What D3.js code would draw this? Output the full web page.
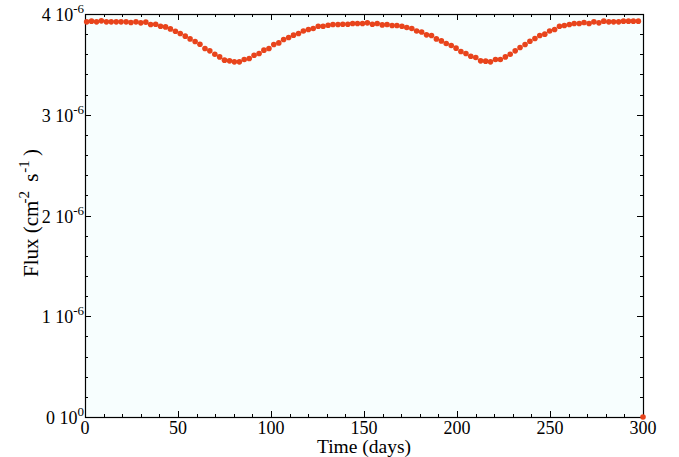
<!DOCTYPE html>
<html>
<head>
<meta charset="utf-8">
<script src="https://cdn.jsdelivr.net/npm/d3@7"></script>
<style>
  html, body { margin: 0; padding: 0; background: #fff; }
  svg { display: block; font-family: "Liberation Serif", "DejaVu Serif", serif; }
</style>
</head>
<body>
<svg id="chart" width="679" height="457"></svg>
<script>
// === Data ===
// time in days
const times = [
  0.9, 3.5, 6.2, 8.8, 11.5, 14.1, 16.8, 19.4, 22.1, 24.7, 27.4, 30.0, 32.7, 35.3, 38.0, 40.6,
  43.3, 45.9, 48.6, 51.2, 53.9, 56.5, 59.2, 61.8, 64.5, 67.1, 69.8, 72.4, 75.0, 77.7, 80.3, 83.0,
  85.6, 88.3, 90.9, 93.6, 96.2, 98.9, 101.5, 104.2, 106.8, 109.5, 112.1, 114.8, 117.4, 120.1, 122.7, 125.4,
  128.0, 130.7, 133.3, 136.0, 138.6, 141.3, 143.9, 146.5, 149.2, 151.8, 154.5, 157.1, 159.8, 162.4, 165.1, 167.7,
  170.4, 173.0, 175.7, 178.3, 181.0, 183.6, 186.3, 188.9, 191.6, 194.2, 196.9, 199.5, 202.1, 204.8, 207.4, 210.1,
  212.7, 215.4, 218.0, 220.7, 223.3, 226.0, 228.6, 231.3, 233.9, 236.6, 239.2, 241.9, 244.5, 247.2, 249.8, 252.5,
  255.1, 257.7, 260.4, 263.0, 265.7, 268.3, 271.0, 273.6, 276.3, 278.9, 281.6, 284.2, 286.9, 289.5, 292.2, 294.8,
  297.5, 300
];
// flux in units of 1e-6 cm^-2 s^-1
const flux = [
  3.922, 3.929, 3.922, 3.932, 3.922, 3.922, 3.922, 3.922, 3.922, 3.916, 3.922, 3.912, 3.919, 3.896, 3.899, 3.879,
  3.872, 3.852, 3.829, 3.806, 3.780, 3.753, 3.727, 3.700, 3.658, 3.634, 3.601, 3.574, 3.542, 3.535, 3.525, 3.525,
  3.549, 3.559, 3.591, 3.608, 3.641, 3.658, 3.697, 3.713, 3.747, 3.767, 3.790, 3.806, 3.832, 3.846, 3.856, 3.879,
  3.879, 3.889, 3.896, 3.896, 3.899, 3.899, 3.906, 3.906, 3.906, 3.912, 3.899, 3.906, 3.892, 3.896, 3.886, 3.886,
  3.879, 3.866, 3.856, 3.832, 3.822, 3.793, 3.787, 3.753, 3.733, 3.707, 3.688, 3.661, 3.628, 3.608, 3.581, 3.568,
  3.535, 3.532, 3.525, 3.549, 3.549, 3.574, 3.601, 3.634, 3.668, 3.697, 3.730, 3.757, 3.787, 3.800, 3.832, 3.846,
  3.879, 3.886, 3.896, 3.906, 3.906, 3.916, 3.906, 3.922, 3.912, 3.929, 3.922, 3.922, 3.922, 3.929, 3.929, 3.929,
  3.929, 0
];
const xMajor = [0, 50, 100, 150, 200, 250, 300];
const yMajor = [0, 1, 2, 3, 4];
const yExp = ['0', '-6', '-6', '-6', '-6'];

// === Layout ===
const M = { left: 85, right: 643, top: 14, bottom: 417 };
const MARK = '#e8441c';

const svg = d3.select('#chart');
const x = d3.scaleLinear().domain([0, 300]).range([M.left, M.right]);
const y = d3.scaleLinear().domain([0, 4]).range([M.bottom, M.top]);

// plot background
svg.append('rect')
  .attr('x', M.left).attr('y', M.top)
  .attr('width', M.right - M.left).attr('height', M.bottom - M.top)
  .attr('fill', '#f7fefe');

// --- ticks (inside, on all four sides) ---
const xMinor = d3.range(0, 301, 10).filter(v => v % 50 !== 0);
const yMinor = d3.range(0, 4.01, 0.2).filter(v => Math.abs(v - Math.round(v)) > 0.01);
const tickG = svg.append('g').attr('stroke', '#000').attr('stroke-width', 1);

function xTicks(vals, len) {
  vals.forEach(v => {
    const px = Math.round(x(v)) + 0.5;
    tickG.append('line').attr('x1', px).attr('x2', px).attr('y1', M.bottom).attr('y2', M.bottom - len);
    tickG.append('line').attr('x1', px).attr('x2', px).attr('y1', M.top).attr('y2', M.top + len);
  });
}
function yTicks(vals, len) {
  vals.forEach(v => {
    const py = Math.round(y(v)) + 0.5;
    tickG.append('line').attr('y1', py).attr('y2', py).attr('x1', M.left).attr('x2', M.left + len);
    tickG.append('line').attr('y1', py).attr('y2', py).attr('x1', M.right).attr('x2', M.right - len);
  });
}
xTicks(xMajor, 6);
xTicks(xMinor, 3);
yTicks(yMajor, 6);
yTicks(yMinor, 3);

// frame
svg.append('rect')
  .attr('x', M.left + 0.5).attr('y', M.top + 0.5)
  .attr('width', M.right - M.left).attr('height', M.bottom - M.top)
  .attr('fill', 'none').attr('stroke', '#000').attr('stroke-width', 1.2);

// --- tick labels ---
svg.append('g').selectAll('text')
  .data(xMajor)
  .join('text')
  .attr('x', d => x(d))
  .attr('y', M.bottom + 17)
  .attr('text-anchor', 'middle')
  .attr('font-size', 18)
  .text(d => d);

yMajor.forEach((v, i) => {
  const t = svg.append('text')
    .attr('x', M.left - 1)
    .attr('y', y(v) + 7)
    .attr('text-anchor', 'end')
    .attr('font-size', 18);
  t.append('tspan').text(v + ' 10');
  t.append('tspan').attr('dy', -8).attr('font-size', 13).text(yExp[i]);
});

// --- axis titles ---
svg.append('text')
  .attr('x', (M.left + M.right) / 2)
  .attr('y', 453)
  .attr('text-anchor', 'middle')
  .attr('font-size', 19.5)
  .text('Time (days)');

const yl = svg.append('text')
  .attr('transform', 'translate(38,277) rotate(-90)')
  .attr('font-size', 21);
yl.append('tspan').text('Flux (cm');
yl.append('tspan').attr('dy', -9).attr('font-size', 15).attr('dx', -3).text('-2');
yl.append('tspan').attr('dy', 9).attr('dx', 4).text(' s');
yl.append('tspan').attr('dy', -9).attr('font-size', 15).attr('dx', 1).text('-1');
yl.append('tspan').attr('dy', 9).attr('dx', -1).text(' )');

// --- data points ---
const pts = times.map((t, i) => ({ t, f: flux[i] }));
svg.append('g').selectAll('circle')
  .data(pts)
  .join('circle')
  .attr('cx', d => x(d.t))
  .attr('cy', d => y(d.f))
  .attr('r', 2.8)
  .attr('fill', MARK);
</script>
</body>
</html>
